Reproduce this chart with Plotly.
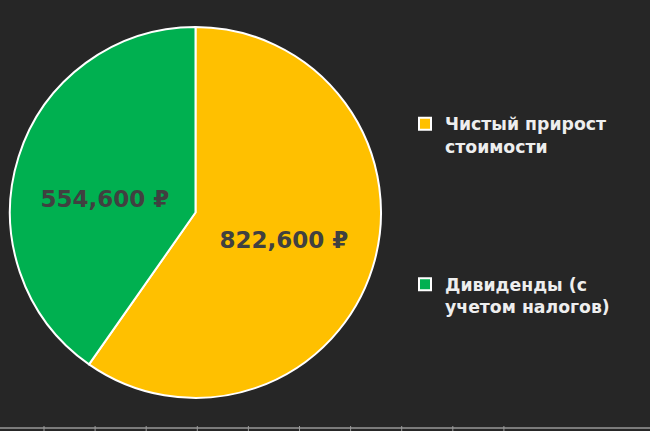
import plotly.graph_objects as go

labels = ["Чистый прирост<br>стоимости<br> <br> <br> <br> <br>", "Дивиденды (с<br>учетом налогов)"]
values = [822600, 554600]
colors = ["#FFC000", "#00B050"]
text_templates = ["%{value:,.0f} ₽", " <br>%{value:,.0f} ₽"]

W, H = 650, 431
fig = go.Figure()
fig.add_trace(go.Pie(
    labels=labels,
    values=values,
    sort=False,
    direction="clockwise",
    rotation=0,
    marker=dict(colors=colors, line=dict(color="#FFFFFF", width=2)),
    texttemplate=text_templates,
    textposition="inside",
    insidetextorientation="horizontal",
    textfont=dict(family="DejaVu Sans", size=23, color="#404040", weight="bold"),
    hoverinfo="skip",
    domain=dict(x=[10 / W, 381 / W], y=[33 / H, 404 / H]),
))

# faint bottom axis-like line with ticks
shapes = [dict(type="line", xref="paper", yref="paper", x0=0, x1=1, y0=3 / H, y1=3 / H,
               line=dict(color="#CFCFCF", width=1))]
for i in range(10):
    xp = 44 + i * 51.1
    shapes.append(dict(type="line", xref="paper", yref="paper", x0=xp / W, x1=xp / W,
                       y0=0, y1=5 / H, line=dict(color="#9A9A9A", width=1)))

fig.update_layout(
    width=W, height=H,
    margin=dict(l=0, r=0, t=0, b=0),
    paper_bgcolor="#262626",
    plot_bgcolor="#262626",
    showlegend=True,
    legend=dict(
        x=405 / W, y=1 - 106 / H, xanchor="left", yanchor="top",
        valign="top",
        font=dict(family="DejaVu Sans", size=17.3, color="#EEEEEE", weight="bold"),
        bgcolor="rgba(0,0,0,0)",
        itemclick=False,
    ),
    shapes=shapes,
)

fig.write_html("out.html", config={"displayModeBar": False},
               post_script="document.body.style.margin='0';document.body.style.background='#262626';")
